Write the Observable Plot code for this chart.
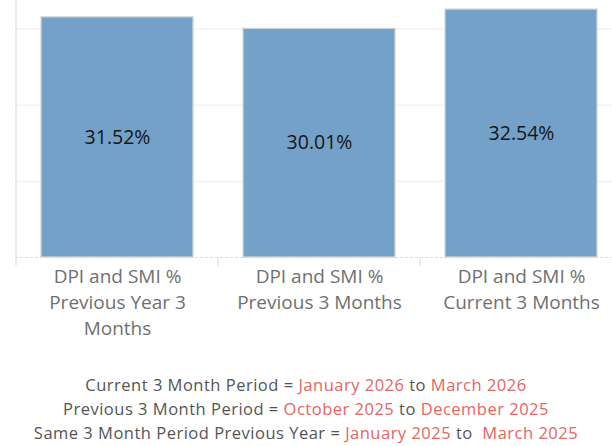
<!DOCTYPE html>
<html>
<head>
<meta charset="utf-8">
<script src="https://cdn.jsdelivr.net/npm/d3@7"></script>
<script src="https://cdn.jsdelivr.net/npm/@observablehq/plot@0.6"></script>
<style>
  html, body { margin: 0; padding: 0; background: #fff; }
  body { width: 612px; height: 446px; overflow: hidden; font-family: "Open Sans", Lato, sans-serif; }
  #chart svg { display: block; }
  #caption { text-align: center; font-family: "Open Sans", sans-serif; font-size: 16.5px; line-height: 24px; color: #555; margin-top: 16px; letter-spacing: 0.5px; }
  #caption .d { color: #e66562; }
</style>
</head>
<body>
<div id="chart"></div>
<div id="caption"></div>
<script>
const categories = ["Previous Year 3 Months", "Previous 3 Months", "Current 3 Months"];
const axisLabels = ["DPI and SMI %\nPrevious Year 3\nMonths", "DPI and SMI %\nPrevious 3 Months", "DPI and SMI %\nCurrent 3 Months"];
const values = [31.52, 30.01, 32.54];
const gridTicks = [10, 20, 30];
const captionLines = [
  ["Current 3 Month Period = ", "January 2026", " to ", "March 2026"],
  ["Previous 3 Month Period = ", "October 2025", " to ", "December 2025"],
  ["Same 3 Month Period Previous Year = ", "January 2025", " to  ", "March 2025"]
];

const data = categories.map((c, i) => ({cat: c, label: axisLabels[i], value: values[i]}));

const plot = Plot.plot({
  width: 612,
  height: 357,
  marginLeft: 15,
  marginRight: 0,
  marginTop: 0,
  marginBottom: 100,
  style: {fontFamily: "'Open Sans', sans-serif", background: "#fff"},
  x: {domain: categories, range: [15, 622.5], paddingInner: 0.25, paddingOuter: 0.125, axis: null},
  y: {domain: [0, 33.73], axis: null},
  marks: [
    Plot.ruleY(gridTicks, {stroke: "#ececec", strokeWidth: 1}),
    Plot.ruleY([0], {stroke: "#dcdcdc", strokeDasharray: "3,2", strokeWidth: 1}),
    Plot.barY(data, {x: "cat", y: "value", fill: "#73a1c8", stroke: "#d4d4d4", strokeWidth: 1.3}),
    Plot.text(data, {x: "cat", y: d => d.value / 2, text: d => d.value.toFixed(2) + "%", fontSize: 19.5, fill: "#161616"}),
    Plot.text(data, {x: "cat", y: 0, text: "label", lineAnchor: "top", dy: 7, fontSize: 19, lineHeight: 1.37, fill: "#707070"})
  ]
});

// column separators and left pane line via scales
const svg = d3.select(plot);
const xs = plot.scale("x");
const ys = plot.scale("y");
const base = ys.apply(0);
const step = xs.step;
const seps = categories.map(c => xs.apply(c) - (step - xs.bandwidth) / 2);
svg.append("g").selectAll("line").data(seps).join("line")
  .attr("x1", d => d).attr("x2", d => d)
  .attr("y1", (d, i) => i === 0 ? 0 : base + 1)
  .attr("y2", base + 9)
  .attr("stroke", "#e6e6e6").attr("stroke-width", 1.5);

document.getElementById("chart").appendChild(plot);

const cap = document.getElementById("caption");
captionLines.forEach(parts => {
  const div = document.createElement("div");
  parts.forEach((p, i) => {
    const s = document.createElement("span");
    s.textContent = p;
    if (i % 2 === 1) s.className = "d";
    s.style.whiteSpace = "pre";
    div.appendChild(s);
  });
  cap.appendChild(div);
});
</script>
</body>
</html>
